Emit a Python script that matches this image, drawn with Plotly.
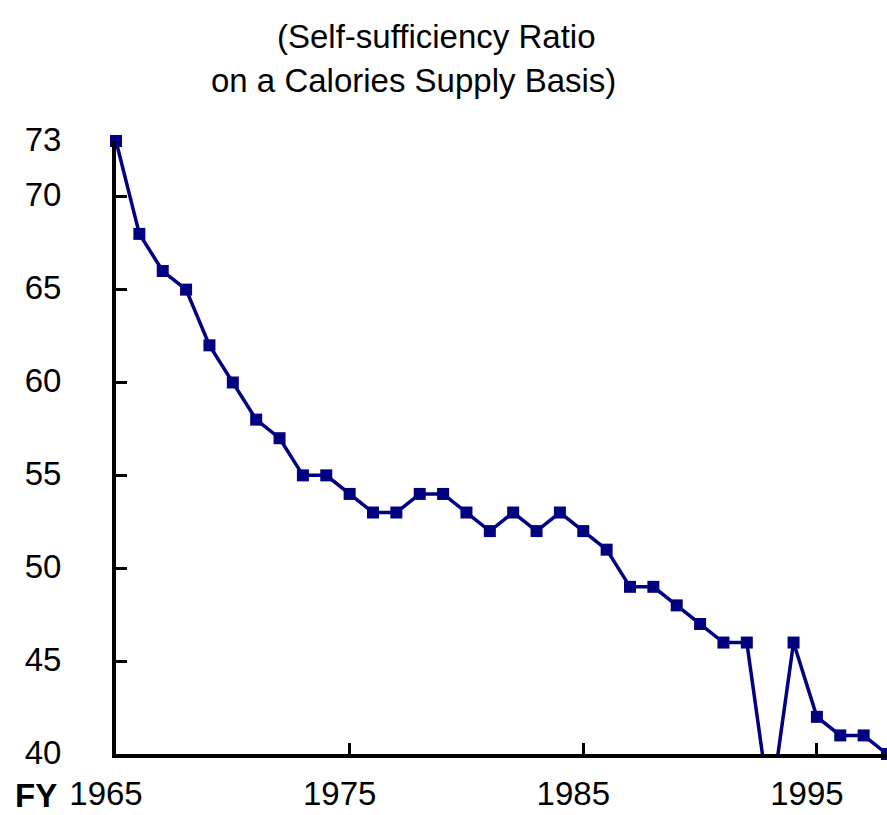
import plotly.graph_objects as go

years = list(range(1965, 1999))
ratio = [73, 68, 66, 65, 62, 60, 58, 57, 55, 55, 54, 53, 53, 54, 54, 53, 52, 53, 52, 53,
         52, 51, 49, 49, 48, 47, 46, 46, 37, 46, 42, 41, 41, 40]
x_ticks = [1965, 1975, 1985, 1995]
y_ticks = [40, 45, 50, 55, 60, 65, 70, 73]
title_lines = ["(Self-sufficiency Ratio", "on a Calories Supply Basis)"]

Y_MIN, Y_MAX = 40, 73
FONT = "Arial, Liberation Sans, sans-serif"
NAVY = "#000080"
FS = 33

fig = go.Figure()
# line (always clipped to plot area)
fig.add_trace(go.Scatter(x=years, y=ratio, mode="lines",
                         line=dict(color=NAVY, width=3.5), hoverinfo="skip"))
# markers (only those within the visible range)
fig.add_trace(go.Scatter(x=years, y=ratio, mode="markers", cliponaxis=False,
                         marker=dict(symbol="square", color=NAVY, opacity=1,
                                     line=dict(width=0),
                                     size=[12 if v >= Y_MIN else 0 for v in ratio])))

fig.update_layout(
    width=887, height=815,
    margin=dict(l=116, r=0, t=141, b=61),
    paper_bgcolor="white", plot_bgcolor="white",
    showlegend=False,
    font=dict(family=FONT, size=FS, color="black"),
)
fig.update_xaxes(range=[1965, 1998], tickvals=x_ticks, ticktext=[str(t) for t in x_ticks],
                 showgrid=False, zeroline=False, showline=True, linecolor="black", linewidth=4,
                 ticks="inside", ticklen=11, tickwidth=3, tickcolor="black",
                 ticklabelshift=-10, ticklabelstandoff=7,
                 tickfont=dict(family=FONT, size=FS, color="black"))
fig.update_yaxes(range=[Y_MIN, Y_MAX], tickvals=y_ticks, ticktext=[str(t) for t in y_ticks],
                 showgrid=False, zeroline=False, showline=True, linecolor="black", linewidth=4,
                 ticks="inside", ticklen=11, tickwidth=3, tickcolor="black",
                 ticklabelstandoff=44, ticklabelshift=-2,
                 tickfont=dict(family=FONT, size=FS, color="black"))

fig.add_annotation(text=title_lines[0], xref="paper", yref="paper", x=0.416, y=1,
                   yshift=105, showarrow=False, xanchor="center", yanchor="middle",
                   font=dict(family=FONT, size=FS, color="black"))
fig.add_annotation(text=title_lines[1], xref="paper", yref="paper", x=0.3865, y=1,
                   yshift=61, showarrow=False, xanchor="center", yanchor="middle",
                   font=dict(family=FONT, size=FS, color="black"))
fig.add_annotation(text="<b>FY</b>", xref="paper", yref="paper", x=0, y=0,
                   xshift=-103, yshift=-41, showarrow=False, xanchor="left", yanchor="middle",
                   font=dict(family=FONT, size=FS, color="black"))

fig.write_html("out.html", config={"displayModeBar": False},
               post_script="document.body.style.margin='0';document.body.style.overflow='hidden';")
